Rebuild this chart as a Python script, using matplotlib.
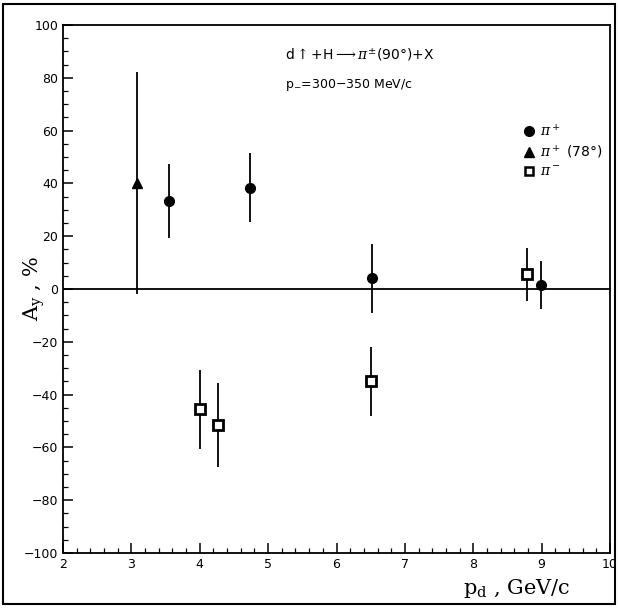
import numpy as np
import matplotlib.pyplot as plt
from matplotlib.ticker import MultipleLocator
from matplotlib.lines import Line2D

plt.rcParams['mathtext.fontset'] = 'dejavuserif'

# pi+ at 90 deg (filled circles)
pip_x = np.array([3.55, 4.74, 6.52, 8.99])
pip_y = np.array([33.4, 38.4, 4.0, 1.5])
pip_err = np.array([14, 13, 13, 9])

# pi+ at 78 deg (triangle)
pi78_x = np.array([3.08])
pi78_y = np.array([40.0])
pi78_err = np.array([42])

# pi- (open squares)
pim_x = np.array([4.01, 4.26, 6.50, 8.79])
pim_y = np.array([-45.6, -51.5, -35.0, 5.5])
pim_err = np.array([15, 16, 13, 10])

fig = plt.figure(figsize=(6.18, 6.08), dpi=100)
ax = fig.add_axes([0.102, 0.0905, 0.885, 0.8685])

ekw = dict(ls='none', ecolor='black', elinewidth=1.3, capsize=0)
ax.errorbar(pip_x, pip_y, yerr=pip_err, marker='o', ms=7, mfc='black', mec='black', **ekw)
ax.errorbar(pi78_x, pi78_y, yerr=pi78_err, marker='^', ms=7, mfc='black', mec='black', **ekw)
ax.errorbar(pim_x, pim_y, yerr=pim_err, marker='s', ms=7, mfc='white', mec='black', mew=2, **ekw)

ax.axhline(0, color='black', lw=1.3)

ax.set_xlim(2, 10)
ax.set_ylim(-100, 100)
ax.xaxis.set_major_locator(MultipleLocator(1))
ax.xaxis.set_minor_locator(MultipleLocator(0.2))
ax.yaxis.set_major_locator(MultipleLocator(20))
ax.yaxis.set_minor_locator(MultipleLocator(5))
ax.tick_params(which='both', direction='in', top=False, right=False, labelsize=9)
ax.tick_params(which='major', length=7, width=1.1)
ax.tick_params(which='minor', length=3.5, width=0.9)
for s in ax.spines.values():
    s.set_linewidth(1.3)

ax.set_xlabel(r'$\mathrm{p_d}$ , GeV/c', fontsize=15, family='DejaVu Serif')
ax.xaxis.set_label_coords(0.83, -0.045)
ax.set_ylabel(r'$\mathrm{A_y}$ , %', fontsize=15, family='DejaVu Serif')
ax.yaxis.set_label_coords(-0.03, 0.5)

ax.text(0.405, 0.935, r'd$\uparrow$+H$\longrightarrow\pi^{\pm}$(90°)+X', transform=ax.transAxes, fontsize=10)
ax.text(0.405, 0.88, r'p$_{-}$=300$-$350 MeV/c', transform=ax.transAxes, fontsize=9)

handles = [
    Line2D([], [], ls='none', marker='o', ms=7, mfc='black', mec='black'),
    Line2D([], [], ls='none', marker='^', ms=7, mfc='black', mec='black'),
    Line2D([], [], ls='none', marker='s', ms=6, mfc='white', mec='black', mew=1.8),
]
labels = [r'$\pi^+$', r'$\pi^+$ (78°)', r'$\pi^-$']
ax.legend(handles, labels, loc='upper right', bbox_to_anchor=(1.01, 0.84), frameon=False,
          fontsize=10, handletextpad=0.2, labelspacing=0.3, handlelength=1.2)

fig.add_artist(plt.Rectangle((0.005, 0.006), 0.99, 0.988, transform=fig.transFigure,
                             fill=False, ec='black', lw=1.5))

fig.savefig('out.png', dpi=100)
